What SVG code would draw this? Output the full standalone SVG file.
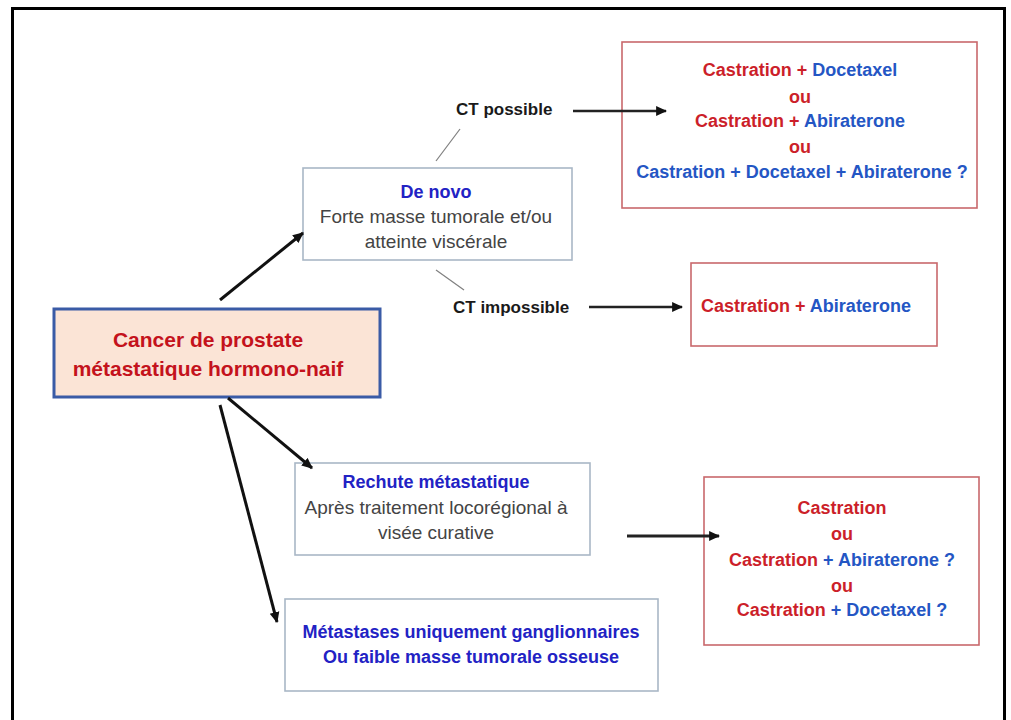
<svg xmlns="http://www.w3.org/2000/svg" width="1011" height="720" viewBox="0 0 1011 720">
  <defs>
    <marker id="ah" viewBox="0 0 10 10" refX="9" refY="5" markerWidth="11" markerHeight="11" markerUnits="userSpaceOnUse" orient="auto">
      <path d="M0,0.5 L10,5 L0,9.5 z" fill="#111"/>
    </marker>
    <style>
      text { font-family: "Liberation Sans", Arial, sans-serif; }
      .box { fill: #ffffff; stroke: #a9b7c6; stroke-width: 1.6; }
      .rbox { fill: #ffffff; stroke: #c9686c; stroke-width: 1.6; }
      .title { font-weight: bold; font-size: 18px; fill: #2222c4; text-anchor: middle; }
      .gray { font-size: 19px; fill: #444444; text-anchor: middle; }
      .ct { font-weight: bold; font-size: 17px; fill: #1a1a1a; }
      .tr { font-weight: bold; font-size: 18px; }
      .r { fill: #cc1f2a; }
      .b { fill: #2456c4; }
      .arrow { stroke: #111; stroke-width: 3; fill: none; marker-end: url(#ah); }
      .harrow { stroke: #222; stroke-width: 2.6; fill: none; marker-end: url(#ah); }
      .thin { stroke: #808080; stroke-width: 1.2; fill: none; }
    </style>
  </defs>
  <rect x="0" y="0" width="1011" height="720" fill="#ffffff"/>
  <!-- outer frame -->
  <path d="M12.5,722 L12.5,8.5 L1004.5,8.5 L1004.5,722" fill="none" stroke="#000" stroke-width="3"/>

  <g id="main">
    <rect x="54" y="309" width="326" height="88" fill="#fbe4d6" stroke="#3a5ba6" stroke-width="3"/>
    <text x="208" y="347" text-anchor="middle" font-weight="bold" font-size="21" fill="#c4121c">Cancer de prostate</text>
    <text x="208" y="376" text-anchor="middle" font-weight="bold" font-size="21" fill="#c4121c">métastatique hormono-naif</text>
  </g>

  <g id="denovo">
    <rect class="box" x="303" y="168" width="269" height="92"/>
    <text class="title" x="436" y="198">De novo</text>
    <text class="gray" x="436" y="223">Forte masse tumorale et/ou</text>
    <text class="gray" x="436" y="248">atteinte viscérale</text>
  </g>

  <g id="ct-possible">
    <text class="ct" x="456" y="115">CT possible</text>
  </g>

  <g id="ct-impossible">
    <text class="ct" x="453" y="313">CT impossible</text>
  </g>

  <g id="treat1">
    <rect class="rbox" x="622" y="42" width="355" height="166"/>
    <text class="tr" x="800" y="76" text-anchor="middle"><tspan class="r">Castration  +</tspan><tspan class="b"> Docetaxel</tspan></text>
    <text class="tr r" x="800" y="103" text-anchor="middle">ou</text>
    <text class="tr" x="800" y="127" text-anchor="middle"><tspan class="r">Castration  +</tspan><tspan class="b"> Abiraterone</tspan></text>
    <text class="tr r" x="800" y="153" text-anchor="middle">ou</text>
    <text class="tr b" x="802" y="178" text-anchor="middle">Castration  + Docetaxel + Abiraterone  ?</text>
  </g>

  <g id="treat2">
    <rect class="rbox" x="691" y="263" width="246" height="83"/>
    <text class="tr" x="701" y="312"><tspan class="r">Castration  +</tspan><tspan class="b"> Abiraterone</tspan></text>
  </g>

  <g id="rechute">
    <rect class="box" x="295" y="463" width="295" height="92"/>
    <text class="title" x="436" y="488">Rechute métastatique</text>
    <text class="gray" x="436" y="514">Après traitement locorégional à</text>
    <text class="gray" x="436" y="539">visée curative</text>
  </g>

  <g id="treat3">
    <rect class="rbox" x="704" y="477" width="275" height="168"/>
    <text class="tr r" x="842" y="514" text-anchor="middle">Castration</text>
    <text class="tr r" x="842" y="540" text-anchor="middle">ou</text>
    <text class="tr" x="842" y="566" text-anchor="middle"><tspan class="r">Castration</tspan><tspan class="b"> + Abiraterone ?</tspan></text>
    <text class="tr r" x="842" y="592" text-anchor="middle">ou</text>
    <text class="tr" x="842" y="616" text-anchor="middle"><tspan class="r">Castration</tspan><tspan class="b">  + Docetaxel ?</tspan></text>
  </g>

  <g id="metastases">
    <rect class="box" x="285" y="599" width="373" height="92"/>
    <text class="title" x="471" y="638">Métastases uniquement ganglionnaires</text>
    <text class="title" x="471" y="663">Ou faible masse tumorale  osseuse</text>
  </g>

  <g id="connectors">
    <line class="arrow" x1="220" y1="300" x2="303" y2="233"/>
    <line class="arrow" x1="228" y1="398" x2="312" y2="468"/>
    <line class="arrow" x1="220" y1="405" x2="277" y2="622"/>
    <line class="thin" x1="460" y1="129" x2="436" y2="161"/>
    <line class="thin" x1="436" y1="270" x2="464" y2="290"/>
    <line class="harrow" x1="573" y1="111" x2="666" y2="111"/>
    <line class="harrow" x1="589" y1="307" x2="682" y2="307"/>
    <line class="harrow" x1="627" y1="536" x2="719" y2="536" style="stroke-width:3.2"/>
  </g>
</svg>
